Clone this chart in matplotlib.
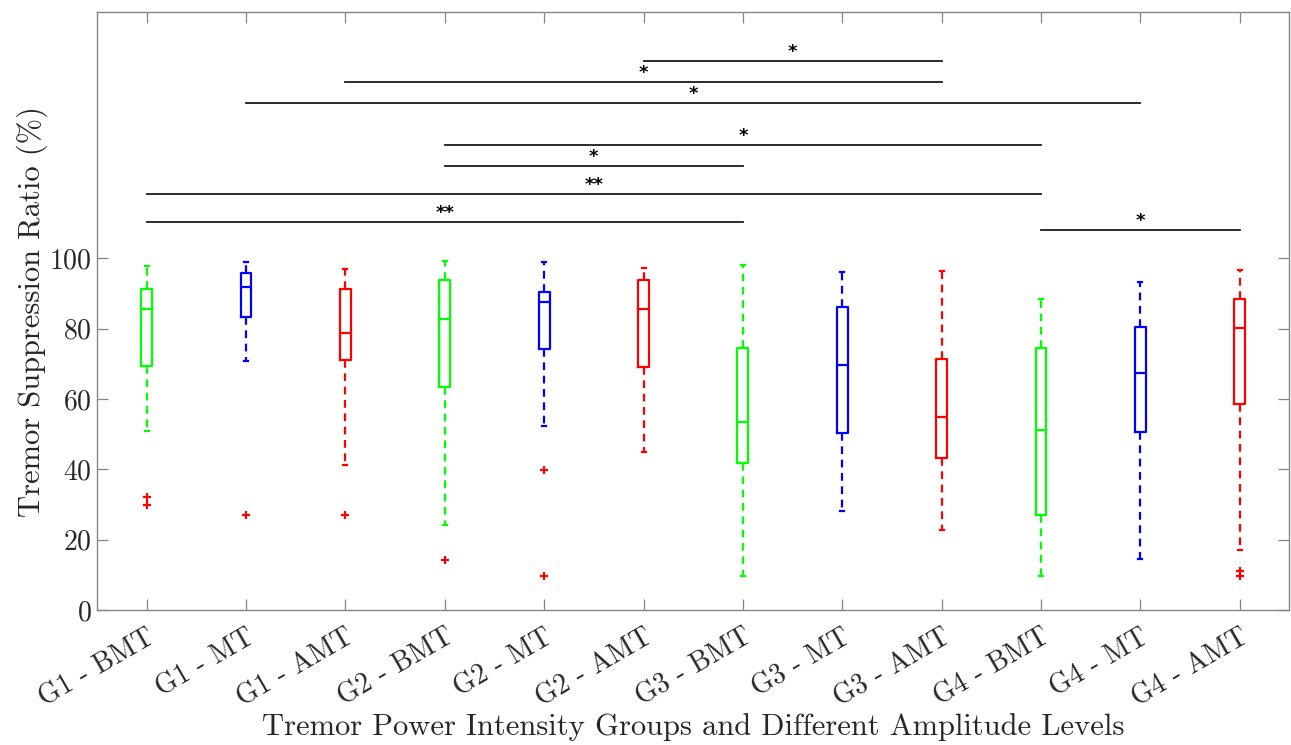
import matplotlib
matplotlib.use("Agg")
import matplotlib.pyplot as plt

plt.rcParams['font.family'] = ['cmr10', 'DejaVu Serif']
plt.rcParams['axes.formatter.use_mathtext'] = True
plt.rcParams['mathtext.fontset'] = 'cm'

# ---- data ----
labels = ['G1 - BMT', 'G1 - MT', 'G1 - AMT',
          'G2 - BMT', 'G2 - MT', 'G2 - AMT',
          'G3 - BMT', 'G3 - MT', 'G3 - AMT',
          'G4 - BMT', 'G4 - MT', 'G4 - AMT']
whis_hi = [97.8, 99.0, 96.9, 99.1, 98.8, 97.3, 98.0, 96.0, 96.4, 88.5, 93.3, 96.6]
q3      = [91.4, 95.9, 91.2, 93.9, 90.5, 93.9, 74.6, 86.1, 71.5, 74.6, 80.4, 88.5]
median  = [85.7, 91.9, 78.8, 82.7, 87.6, 85.7, 53.6, 69.7, 54.9, 51.1, 67.4, 80.2]
q1      = [69.3, 83.3, 71.2, 63.3, 74.3, 69.0, 41.7, 50.4, 43.1, 26.9, 50.7, 58.7]
whis_lo = [51.0, 70.7, 41.2, 24.1, 52.3, 45.0,  9.8, 28.2, 22.9,  9.8, 14.5, 17.2]
outliers = [[32.2, 30.0], [27.1], [26.9], [14.3], [39.7, 9.7], [],
            [], [], [], [], [], [11.2, 9.7]]
box_colors = ['#00ff00', '#0000ff', '#ff0000'] * 4

# significance bars: (from box, to box, height, label)
sig_from  = [6, 3, 2, 4, 4, 1, 1, 10]
sig_to    = [9, 9, 11, 10, 7, 10, 7, 12]
sig_y     = [156.0, 150.0, 144.0, 132.1, 126.1, 118.2, 110.2, 108.0]
sig_label = ['*', '*', '*', '*', '*', '**', '**', '*']

axis_gray = '#858585'
text_gray = '#262626'

fig = plt.figure(figsize=(12.91, 7.45), dpi=100)
ax = fig.add_axes([0.0751, 0.181, 0.9237, 0.803])

positions = list(range(1, len(labels) + 1))
stats = []
for i in range(len(labels)):
    stats.append(dict(med=median[i], q1=q1[i], q3=q3[i],
                      whislo=whis_lo[i], whishi=whis_hi[i],
                      fliers=outliers[i]))

bp = ax.bxp(stats, positions=positions, widths=0.11, capwidths=0.04,
            showfliers=True, patch_artist=False)

for i, c in enumerate(box_colors):
    bp['boxes'][i].set(color=c, linewidth=1.6)
    bp['medians'][i].set(color=c, linewidth=1.6)
    for w in bp['whiskers'][2 * i:2 * i + 2]:
        w.set(color=c, linewidth=1.6, linestyle=(0, (3.5, 2.5)))
    for cp in bp['caps'][2 * i:2 * i + 2]:
        cp.set(color=c, linewidth=1.6)
    bp['fliers'][i].set(marker='+', markeredgecolor='#ff0000',
                        markersize=6, markeredgewidth=1.6)

for a, b, y, lab in zip(sig_from, sig_to, sig_y, sig_label):
    ax.plot([a, b], [y, y], color='#1a1a1a', linewidth=1.3)
    ax.text((a + b) / 2, y + 2.6, lab, ha='center', va='center',
            fontsize=13, fontweight='bold', family='DejaVu Sans', color='black')

ax.set_xlim(0.5, 12.5)
ax.set_ylim(0, 170)
ax.set_yticks([0, 20, 40, 60, 80, 100])
ax.set_xticks(positions)
ax.set_xticklabels(labels, rotation=30, ha='right', rotation_mode='anchor',
                   fontsize=20, color=text_gray)
for t in ax.get_yticklabels():
    t.set_fontsize(20)
    t.set_color(text_gray)

ax.tick_params(axis='both', direction='in', length=8, width=0.9,
               color=axis_gray, top=True, right=True, pad=4)
ax.tick_params(axis='x', pad=10)
for s in ax.spines.values():
    s.set_color(axis_gray)
    s.set_linewidth(1.0)

ax.set_ylabel('Tremor Suppression Ratio (%)', fontsize=22, color=text_gray)
ax.set_xlabel('Tremor Power Intensity Groups and Different Amplitude Levels',
              fontsize=22, color=text_gray)
ax.yaxis.set_label_coords(-0.041, 0.5)
ax.xaxis.set_label_coords(0.5, -0.172)

fig.savefig('out.png', dpi=100)
